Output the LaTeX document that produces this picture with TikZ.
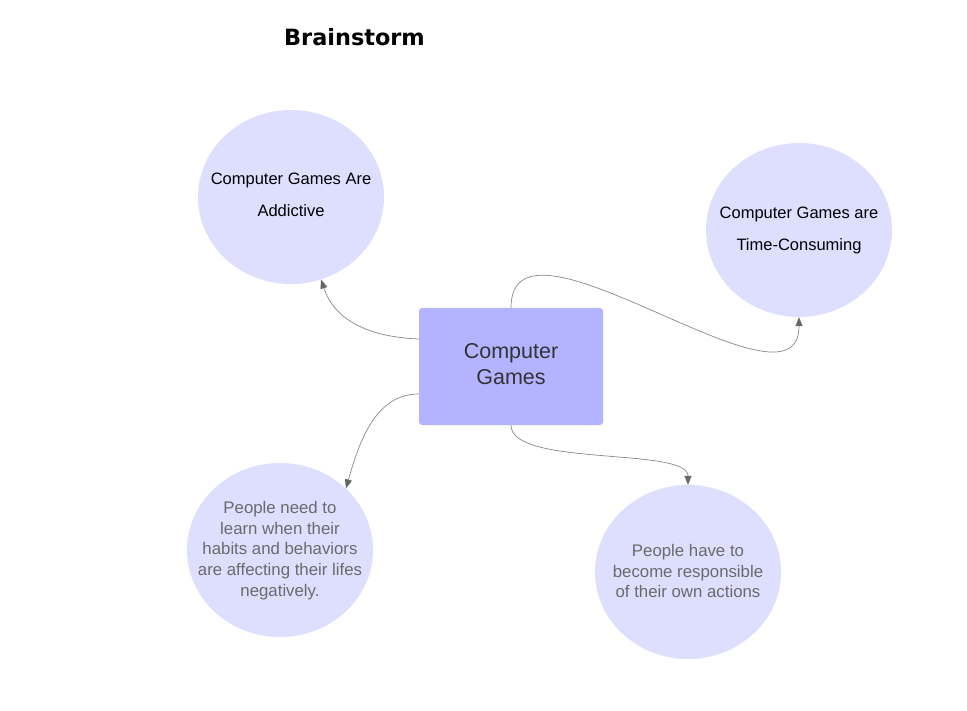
\documentclass[tikz,border=0pt]{standalone}
\usepackage{fontspec}
\setmainfont{Liberation Sans}
\newfontfamily\titlefont{DejaVu Sans}
\usetikzlibrary{shapes.geometric,arrows.meta,calc}
\definecolor{bubble}{HTML}{DEDEFF}
\definecolor{boxfill}{HTML}{B3B3FF}
\definecolor{linegray}{HTML}{888888}
\definecolor{tipgray}{HTML}{666666}
\definecolor{softtext}{HTML}{6B6B6B}
\definecolor{darktext}{HTML}{333333}
\tikzset{
  bubblenode/.style={ellipse, fill=bubble, minimum width=186pt, minimum height=174pt, inner sep=0pt},
  bubbletext/.style={align=center, inner sep=0pt},
  toptext/.style={bubbletext, font=\fontsize{16.5}{32}\selectfont},
  lowtext/.style={bubbletext, text=softtext, font=\fontsize{16.8}{20.8}\selectfont},
  centerbox/.style={rectangle, rounded corners=3pt, fill=boxfill, minimum width=184pt, minimum height=117pt, inner sep=0pt},
  centertext/.style={align=center, inner sep=0pt, text=darktext, font=\fontsize{21.5}{26}\selectfont},
  linkline/.style={draw=linegray, line width=0.7pt, -{Triangle[length=9pt,width=7pt,fill=tipgray,color=tipgray]}},
}
\begin{document}
\begin{tikzpicture}[x=1pt,y=-1pt]
\useasboundingbox (0,0) rectangle (967,711);
\node[font=\titlefont\bfseries\fontsize{22.4}{26}\selectfont] (title) at (354.5,37) {Brainstorm};
\node[centerbox] (cg) at (511,366.5) {};
\node[centertext] (cgt) at (511,364.5) {Computer\\Games};
\node[bubblenode] (tl) at (291,197) {};
\node[toptext] (tlt) at (291,195) {Computer Games Are\\Addictive};
\node[bubblenode] (tr) at (799,230) {};
\node[toptext] (trt) at (799,230) {Computer Games are\\Time-Consuming};
\node[bubblenode] (bl) at (280,550) {};
\node[lowtext] (blt) at (280,550.5) {People need to\\learn when their\\habits and behaviors\\are affecting their lifes\\negatively.};
\node[bubblenode] (br) at (688,572) {};
\node[lowtext] (brt) at (688,571) {People have to\\become responsible\\of their own actions};
\draw[linkline] ([yshift=27.5pt]cg.west) .. controls +(-48,-2) and +(14,42) .. (tl.-70);
\draw[linkline] (cg.north) .. controls +(0,-115) and +(0,110) .. (tr.south);
\draw[linkline] ([yshift=-27.5pt]cg.west) .. controls +(-42,0) and +(14,-50) .. (bl.43);
\draw[linkline] (cg.south) .. controls +(0,42) and +(0,-38) .. (br.north);
\end{tikzpicture}
\end{document}
